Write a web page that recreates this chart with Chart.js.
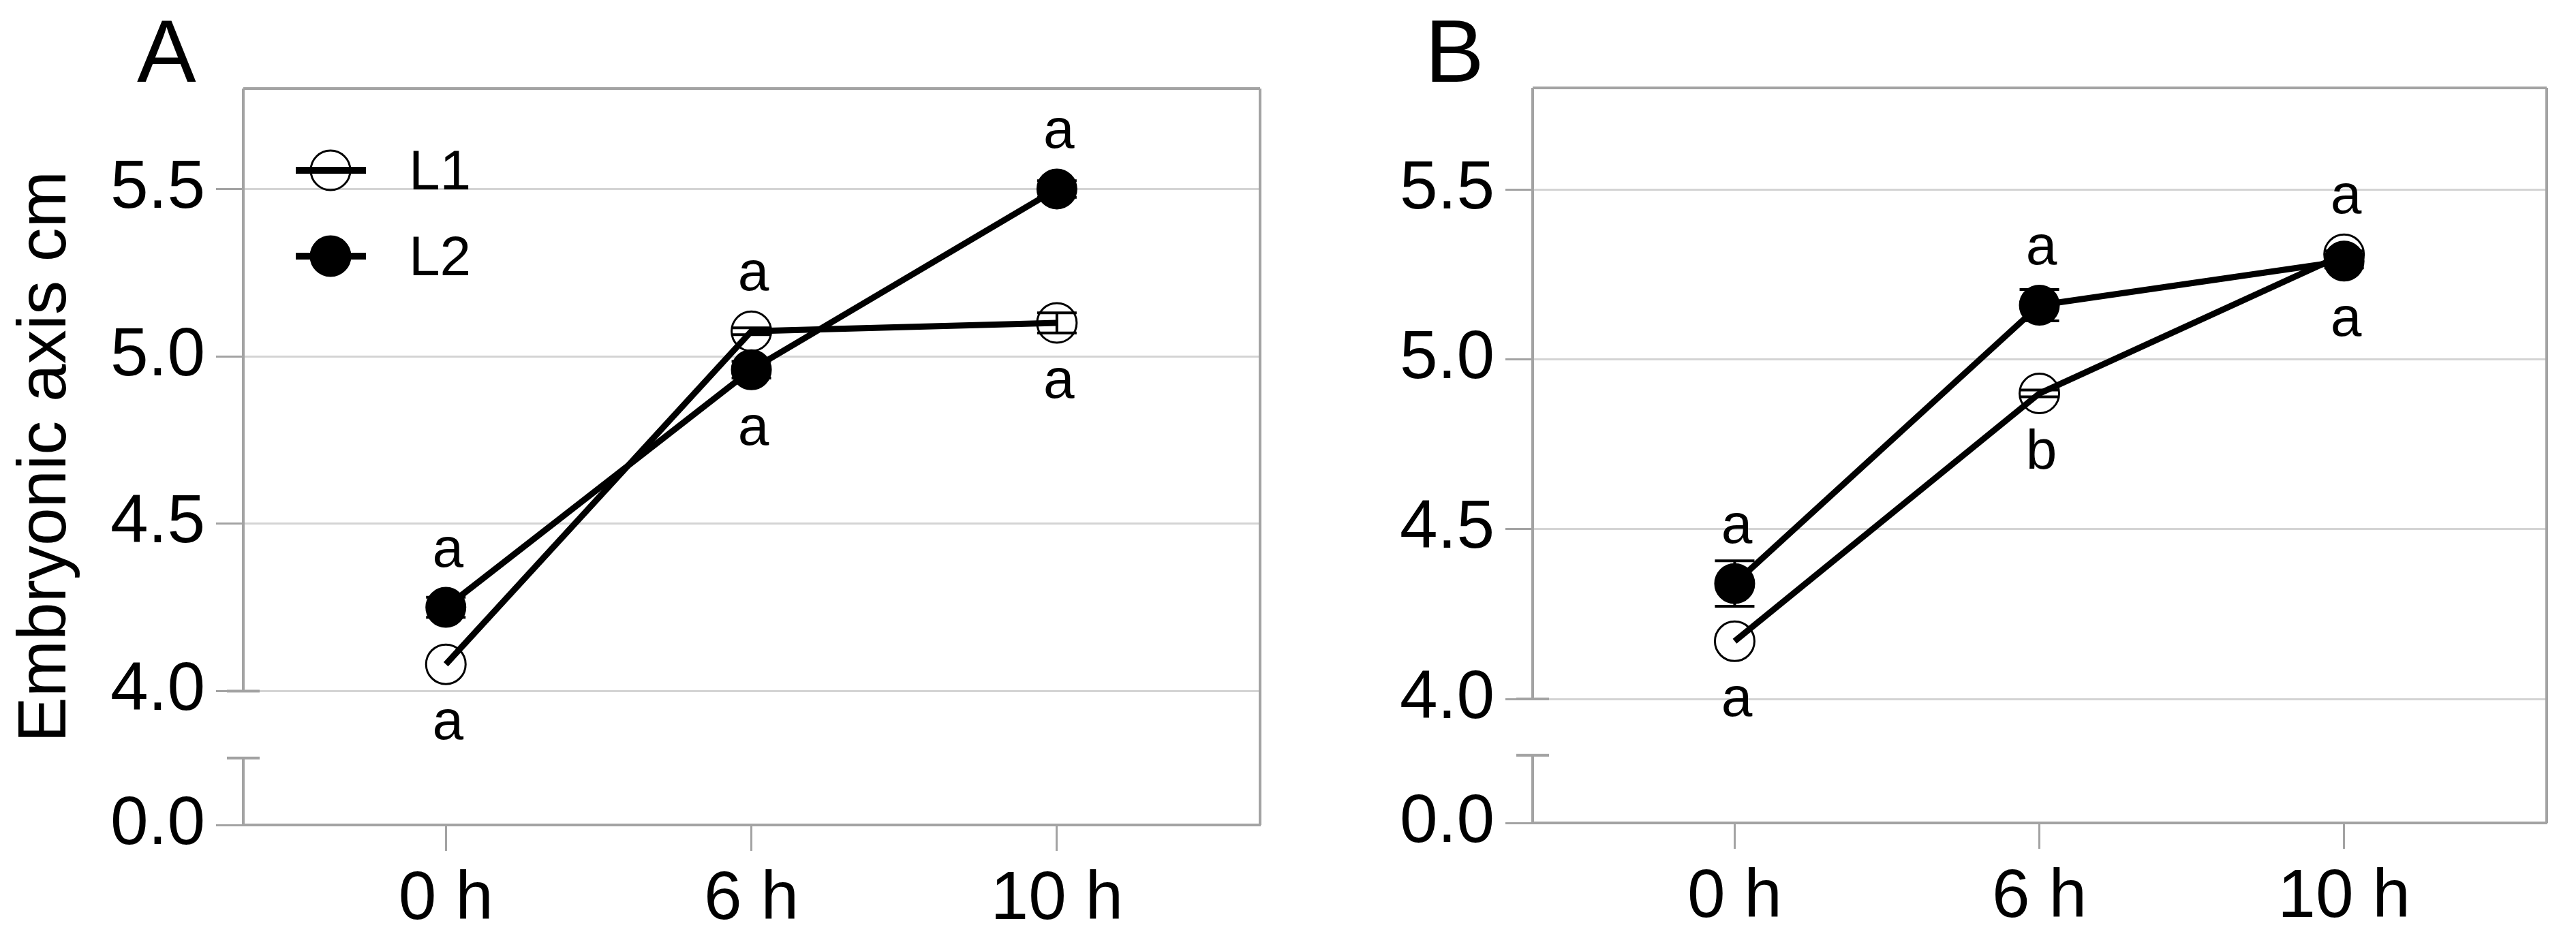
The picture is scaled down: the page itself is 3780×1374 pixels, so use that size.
<!DOCTYPE html>
<html>
<head>
<meta charset="utf-8">
<title>Embryonic axis</title>
<script src="https://cdn.jsdelivr.net/npm/chart.js@4.4.0/dist/chart.umd.min.js"></script>
<style>
    html, body { margin: 0; padding: 0; background: #fff; }
    body { width: 3780px; height: 1374px; overflow: hidden; position: relative; font-family: 'Liberation Sans', Arial, sans-serif; }
    .panel { position: absolute; top: 0; width: 1890px; height: 1374px; }
    .tag { position: absolute; top: 10px; font-size: 130px; line-height: 130px; color: #000; }
    canvas { position: absolute; left: 0; top: 0; }
</style>
</head>
<body>
<div class="panel" style="left:0">
    <canvas id="chartA" width="1890" height="1374"></canvas>
    <div class="tag" style="left:201px">A</div>
</div>
<div class="panel" style="left:1890px">
    <canvas id="chartB" width="1890" height="1374"></canvas>
    <div class="tag" style="left:201px">B</div>
</div>
<script>
// Categories and tick labels
const timeLabels = ['0 h', '6 h', '10 h'];
const seriesNames = ['L1', 'L2'];
const yTickValues = [4.0, 4.5, 5.0, 5.5];
const yTickLabels = ['0.0', '4.0', '4.5', '5.0', '5.5'];

// Panel A values (mean and error)
const aL1 = [4.08, 5.075, 5.10];
const aL1Err = [0, 0.01, 0.03];
const aL2 = [4.25, 4.96, 5.50];
const aL2Err = [0.03, 0.025, 0.025];
const aTopLetters = ['a', 'a', 'a'];
const aBottomLetters = ['a', 'a', 'a'];

// Panel B values (mean and error)
const bL1 = [4.17, 4.90, 5.31];
const bL1Err = [0, 0.01, 0.01];
const bL2 = [4.34, 5.16, 5.29];
const bL2Err = [0.067, 0.046, 0.02];
const bTopLetters = ['a', 'a', 'a'];
const bBottomLetters = ['a', 'b', 'a'];

const FONT = "'Liberation Sans', Arial, sans-serif";
const axisGray = '#a3a3a3';
const gridGray = '#d4d4d4';

Chart.defaults.font.family = FONT;
Chart.defaults.color = '#000';

// Box frame with the broken left axis
const framePlugin = {
    id: 'frame',
    beforeDatasetsDraw(chart, args, opts) {
        const { ctx, chartArea: a, scales } = chart;
        const yTop = scales.y.getPixelForValue(4.0);
        const yBreak = scales.y.getPixelForValue(opts.breakAt);
        ctx.save();
        ctx.strokeStyle = axisGray;
        ctx.lineWidth = 4;
        ctx.beginPath();
        ctx.moveTo(a.left, a.top); ctx.lineTo(a.right, a.top);
        ctx.moveTo(a.right, a.top); ctx.lineTo(a.right, a.bottom);
        ctx.moveTo(a.left, a.top); ctx.lineTo(a.left, yTop);
        ctx.moveTo(a.left, yBreak); ctx.lineTo(a.left, a.bottom + 2);
        ctx.stroke();
        ctx.lineWidth = 4;
        ctx.beginPath();
        ctx.moveTo(a.left - 24, yTop); ctx.lineTo(a.left + 24, yTop);
        ctx.moveTo(a.left - 24, yBreak); ctx.lineTo(a.left + 24, yBreak);
        ctx.stroke();
        ctx.restore();
    }
};

// Error bars drawn over the markers
const errorBarPlugin = {
    id: 'errorBars',
    afterDatasetsDraw(chart) {
        const { ctx, scales } = chart;
        ctx.save();
        ctx.strokeStyle = '#000';
        ctx.lineWidth = 4;
        chart.data.datasets.forEach(ds => {
            ds.data.forEach((p, i) => {
                const e = ds.errors[i];
                if (!e) return;
                const x = scales.x.getPixelForValue(p.x);
                const y1 = scales.y.getPixelForValue(p.y + e);
                const y2 = scales.y.getPixelForValue(p.y - e);
                ctx.beginPath();
                ctx.moveTo(x, y1); ctx.lineTo(x, y2);
                ctx.moveTo(x - 29, y1); ctx.lineTo(x + 29, y1);
                ctx.moveTo(x - 29, y2); ctx.lineTo(x + 29, y2);
                ctx.stroke();
            });
        });
        ctx.restore();
    }
};

// Significance letters above the upper and below the lower point
const lettersPlugin = {
    id: 'letters',
    afterDatasetsDraw(chart, args, opts) {
        const { ctx, scales } = chart;
        const sets = chart.data.datasets;
        ctx.save();
        ctx.font = '82px ' + FONT;
        ctx.fillStyle = '#000';
        ctx.textAlign = 'center';
        ctx.textBaseline = 'alphabetic';
        timeLabels.forEach((_, i) => {
            const x = scales.x.getPixelForValue(i) + 3;
            const ys = sets.map(ds => scales.y.getPixelForValue(ds.data[i].y));
            ctx.fillText(opts.top[i], x, Math.min(...ys) - 60);
            ctx.fillText(opts.bottom[i], x, Math.max(...ys) + 110);
        });
        ctx.restore();
    }
};

// Legend inside the plot area (panel A only)
const innerLegendPlugin = {
    id: 'innerLegend',
    afterDatasetsDraw(chart, args, opts) {
        if (!opts.show) return;
        const { ctx } = chart;
        ctx.save();
        chart.data.datasets.forEach((ds, i) => {
            const y = 250 + i * 126;
            ctx.strokeStyle = '#000';
            ctx.lineWidth = 10;
            ctx.beginPath();
            ctx.moveTo(434, y); ctx.lineTo(537, y);
            ctx.stroke();
            ctx.beginPath();
            ctx.arc(485, y, 29, 0, Math.PI * 2);
            if (ds.pointBackgroundColor !== 'rgba(0,0,0,0)') {
                ctx.fillStyle = '#000';
                ctx.fill();
            }
            ctx.lineWidth = 3;
            ctx.stroke();
            ctx.font = '82px ' + FONT;
            ctx.fillStyle = '#000';
            ctx.textAlign = 'left';
            ctx.textBaseline = 'alphabetic';
            ctx.fillText(ds.label, 600, y + 28);
        });
        ctx.restore();
    }
};

function toPoints(values) {
    return values.map((v, i) => ({ x: i, y: v }));
}

function makePanel(canvasId, p) {
    const ctx = document.getElementById(canvasId).getContext('2d');
    return new Chart(ctx, {
        type: 'line',
        data: {
            datasets: [{
                label: seriesNames[0],
                data: toPoints(p.l1),
                errors: p.l1Err,
                borderColor: '#000',
                borderWidth: 9,
                pointRadius: 29,
                pointBorderWidth: 3,
                pointBorderColor: '#000',
                pointBackgroundColor: 'rgba(0,0,0,0)',
                tension: 0
            }, {
                label: seriesNames[1],
                data: toPoints(p.l2),
                errors: p.l2Err,
                borderColor: '#000',
                borderWidth: 9,
                pointRadius: 29,
                pointBorderWidth: 2,
                pointBorderColor: '#000',
                pointBackgroundColor: '#000',
                tension: 0
            }]
        },
        options: {
            responsive: false,
            animation: false,
            devicePixelRatio: 1,
            layout: { padding: { left: 0, right: p.padRight, top: p.padTop, bottom: 0 } },
            plugins: {
                legend: { display: false },
                tooltip: { enabled: false },
                frame: { breakAt: p.breakAt },
                letters: { top: p.top, bottom: p.bottom },
                innerLegend: { show: p.legend }
            },
            scales: {
                x: {
                    type: 'linear',
                    min: -0.663,
                    max: 2.665,
                    afterBuildTicks: s => { s.ticks = timeLabels.map((_, i) => ({ value: i })); },
                    afterFit: s => { s.height = p.xHeight; },
                    ticks: {
                        callback: v => timeLabels[v],
                        font: { size: 100 },
                        color: '#000',
                        padding: 12,
                        maxRotation: 0,
                        autoSkip: false
                    },
                    grid: {
                        drawOnChartArea: false,
                        drawTicks: true,
                        tickLength: 38,
                        tickColor: axisGray,
                        tickWidth: 3
                    },
                    border: { display: true, color: axisGray, width: 4 }
                },
                y: {
                    type: 'linear',
                    min: p.yMin,
                    max: 5.8,
                    afterBuildTicks: s => { s.ticks = [p.yMin, ...yTickValues].map(v => ({ value: v })); },
                    afterFit: s => { s.width = p.yWidth; },
                    ticks: {
                        callback: (v, i) => yTickLabels[i],
                        font: { size: 100 },
                        color: '#000',
                        padding: 16
                    },
                    grid: {
                        color: c => (c.tick && c.tick.value === p.yMin) ? 'rgba(0,0,0,0)' : gridGray,
                        lineWidth: 3,
                        drawTicks: true,
                        tickLength: 40,
                        tickColor: axisGray,
                        tickWidth: 3
                    },
                    border: { display: false },
                    title: {
                        display: p.yTitle !== '',
                        text: p.yTitle,
                        font: { size: 100 },
                        color: '#000',
                        padding: { top: 8, bottom: 0 }
                    }
                }
            }
        },
        plugins: [framePlugin, errorBarPlugin, lettersPlugin, innerLegendPlugin]
    });
}

makePanel('chartA', {
    l1: aL1, l1Err: aL1Err, l2: aL2, l2Err: aL2Err,
    top: aTopLetters, bottom: aBottomLetters,
    yMin: 3.6, breakAt: 3.8, yTitle: 'Embryonic axis cm', legend: true,
    yWidth: 357, xHeight: 163, padTop: 130, padRight: 41
});

makePanel('chartB', {
    l1: bL1, l1Err: bL1Err, l2: bL2, l2Err: bL2Err,
    top: bTopLetters, bottom: bBottomLetters,
    yMin: 3.635, breakAt: 3.834, yTitle: '', legend: false,
    yWidth: 359, xHeight: 166, padTop: 129, padRight: 43
});
</script>
</body>
</html>
